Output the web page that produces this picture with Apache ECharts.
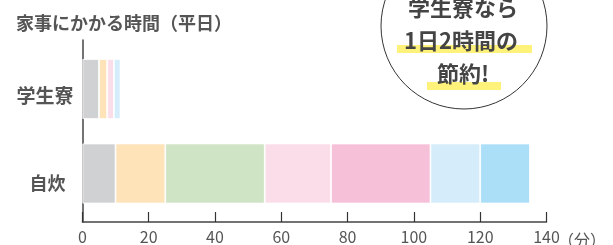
<!DOCTYPE html>
<html><head><meta charset="utf-8">
<script src="https://cdn.jsdelivr.net/npm/echarts@6/dist/echarts.min.js"></script>
<style>html,body{margin:0;padding:0;background:#fff}#c{width:613px;height:245px}</style>
</head><body><div id="c"></div>
<script>
const categories = ['学生寮', '自炊'];
const seriesNames = ['s1', 's2', 's3', 's4', 's5', 's6', 's7'];
const seriesValues = [
  [5, 10],
  [2.5, 15],
  [0, 30],
  [2, 20],
  [0, 30],
  [2, 15],
  [0, 15]
];
const colors = ['#D0D1D3', '#FEE2B8', '#CFE4C4', '#FBDDE9', '#F6C1D8', '#D5ECFA', '#ABDFF8'];
const xTicks = [0, 20, 40, 60, 80, 100, 120, 140];
const FONT = '"Noto Sans CJK JP", "Noto Sans", sans-serif';

const chart = echarts.init(document.getElementById('c'), null, {renderer: 'canvas'});
const L = 82.4, R = 66.5;
const option = {
  animation: false,
  title: {
    text: '家事にかかる時間（平日）', left: 11, top: 9,
    textStyle: {fontFamily: FONT, fontSize: 18, fontWeight: 'bold', color: '#555'}
  },
  grid: [
    {left: L, right: R, top: 40, bottom: 21},
    {left: L, right: R, top: 46.75, height: 169}
  ],
  xAxis: [
    {gridIndex: 0, type: 'value', min: xTicks[0], max: xTicks[xTicks.length - 1], interval: 20,
     splitLine: {show: false},
     axisLine: {show: true, lineStyle: {color: '#444', width: 1.5}},
     axisTick: {show: true, inside: true, length: 10, lineStyle: {color: '#333', width: 1.2}},
     axisLabel: {fontFamily: FONT, fontSize: 16, color: '#555', margin: 7,
                 formatter: v => String(v)}},
    {gridIndex: 1, type: 'value', min: 0, max: 140, show: false}
  ],
  yAxis: [
    {gridIndex: 0, type: 'value', min: 0, max: 1,
     axisLine: {show: true, lineStyle: {color: '#444', width: 1.5}},
     axisTick: {show: false}, axisLabel: {show: false}, splitLine: {show: false}},
    {gridIndex: 1, type: 'category', data: categories, inverse: true,
     axisLine: {show: false}, axisTick: {show: false},
     axisLabel: {margin: 9,
       formatter: (v, i) => i === 0 ? '{a|' + v + '}' : '{b|' + v + '}',
       rich: {
         a: {fontFamily: FONT, fontSize: 19, fontWeight: 'bold', color: '#555', padding: [14, 0, 0, 0]},
         b: {fontFamily: FONT, fontSize: 18, fontWeight: 'bold', color: '#555', padding: [20, 8, 0, 0]}
       }}}
  ],
  series: seriesNames.map((n, i) => ({
    name: n, type: 'bar', stack: 'total', xAxisIndex: 1, yAxisIndex: 1,
    barWidth: 60, data: seriesValues[i],
    itemStyle: {color: colors[i], borderColor: '#fff', borderWidth: 0.8}
  })),
  graphic: [
    {type: 'circle', shape: {cx: 464, cy: 26, r: 83}, style: {fill: '#fff', stroke: '#333', lineWidth: 1}, z: 10},
    {type: 'rect', shape: {x: 397, y: 45, width: 135, height: 8}, style: {fill: '#FFF27A'}, z: 11},
    {type: 'rect', shape: {x: 427, y: 82, width: 74, height: 8}, style: {fill: '#FFF27A'}, z: 11},
    {type: 'text', x: 463, y: 8, z: 12, style: {text: '学生寮なら', fontFamily: FONT, fontSize: 22, fontWeight: 'bold', fill: '#444', align: 'center', verticalAlign: 'middle'}},
    {type: 'text', x: 461, y: 41, z: 12, style: {text: '1日2時間の', fontFamily: FONT, fontSize: 22, fontWeight: 'bold', fill: '#444', align: 'center', verticalAlign: 'middle'}},
    {type: 'text', x: 463, y: 74, z: 12, style: {text: '節約!', fontFamily: FONT, fontSize: 22, fontWeight: 'bold', fill: '#444', align: 'center', verticalAlign: 'middle'}},
    {type: 'text', x: 558, y: 240, z: 12, style: {text: '（分）', fontFamily: FONT, fontSize: 16, fill: '#555', align: 'left', verticalAlign: 'middle'}}
  ]
};
chart.setOption(option);
</script></body></html>
